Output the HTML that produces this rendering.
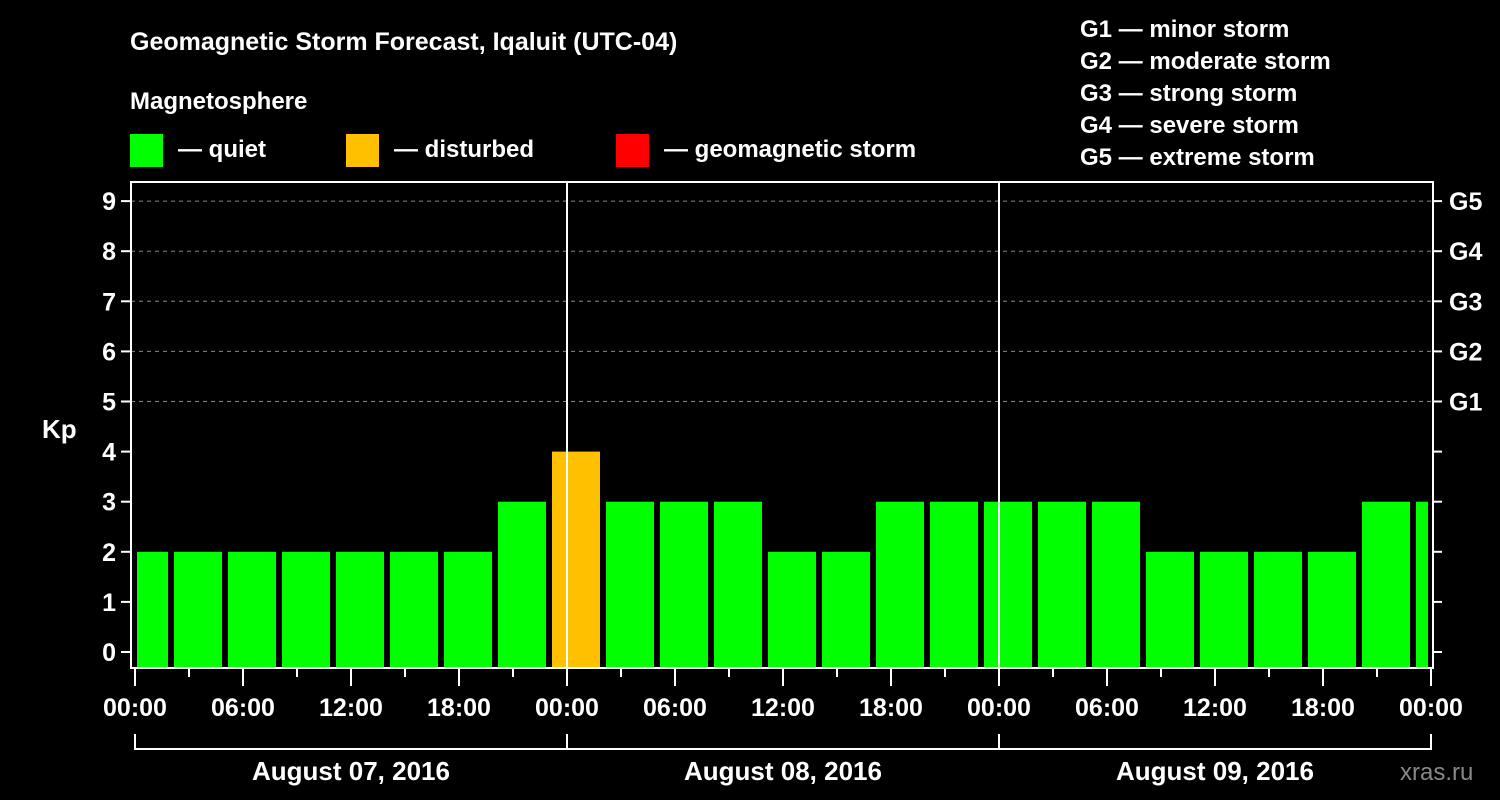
<!DOCTYPE html>
<html><head><meta charset="utf-8"><style>
html,body{margin:0;padding:0;background:#000;}
svg{display:block;font-family:"Liberation Sans",Arial,sans-serif;font-weight:bold;}
</style></head><body>
<svg width="1500" height="800" viewBox="0 0 1500 800">
<rect width="1500" height="800" fill="#000"/>
<text x="130" y="50" fill="#fff" font-size="25">Geomagnetic Storm Forecast, Iqaluit (UTC-04)</text>
<text x="130" y="109" fill="#fff" font-size="24">Magnetosphere</text>
<g><rect x="130" y="134" width="33" height="33" fill="#00ff00"/><text x="178" y="157" fill="#fff" font-size="24">— quiet</text></g>
<g><rect x="346" y="134" width="33" height="33" fill="#ffc000"/><text x="394" y="157" fill="#fff" font-size="24">— disturbed</text></g>
<g><rect x="616" y="134" width="33" height="33" fill="#ff0000"/><text x="664" y="157" fill="#fff" font-size="24">— geomagnetic storm</text></g>
<g fill="#fff" font-size="24">
<text x="1080" y="37">G1 — minor storm</text>
<text x="1080" y="69">G2 — moderate storm</text>
<text x="1080" y="101">G3 — strong storm</text>
<text x="1080" y="133">G4 — severe storm</text>
<text x="1080" y="165">G5 — extreme storm</text>
</g>
<text x="42" y="438" fill="#fff" font-size="26">Kp</text>
<defs><clipPath id="pc"><rect x="137" y="182" width="1291" height="486"/></clipPath></defs>
<g id="grid"></g>
<g id="bars" clip-path="url(#pc)"></g>
<g id="axes"></g>
<text x="1400" y="780" fill="#888" font-size="24" font-weight="normal">xras.ru</text>
</svg>
<script>
const kpValues=[2,2,2,2,2,2,2,3,4,3,3,3,2,2,3,3,3,3,3,2,2,2,2,3,3];
const kpTicks=[0,1,2,3,4,5,6,7,8,9];
const gLabels=["G1","G2","G3","G4","G5"];
const timeLabels=["00:00","06:00","12:00","18:00","00:00","06:00","12:00","18:00","00:00","06:00","12:00","18:00","00:00"];
const dayLabels=["August 07, 2016","August 08, 2016","August 09, 2016"];
const NS="http://www.w3.org/2000/svg";
const X0=135,PXH=18,Y0=652,PXK=50.1;
const xs=h=>X0+h*PXH, ys=k=>Y0-k*PXK;
function mk(tag,attrs,parent,txt){const e=document.createElementNS(NS,tag);for(const k in attrs)e.setAttribute(k,attrs[k]);if(txt!==undefined)e.textContent=txt;document.getElementById(parent).appendChild(e);return e;}
const color=v=>v>=5?"#ff0000":v>=4?"#ffc000":"#00ff00";
kpValues.forEach((v,i)=>{
 const c=i*3-1+1.5;
 const l=xs(c-1.5)+3,r=xs(c+1.5)-3;
 const b=mk("rect",{x:l,y:ys(v),width:r-l,height:667-ys(v),fill:color(v)},"bars");
 
 
});
kpTicks.forEach(k=>{
 const y=ys(k);
 if(k>=5){const g=mk("line",{x1:131,x2:1433,y1:y,y2:y,stroke:"#888","stroke-dasharray":"4,4","stroke-width":1},"grid");
 
 }
 mk("line",{x1:121,x2:131,y1:y,y2:y,stroke:"#fff","stroke-width":2},"axes");
 mk("line",{x1:1433,x2:1442,y1:y,y2:y,stroke:"#fff","stroke-width":2},"axes");
 const t=mk("text",{x:116,y:y+9,fill:"#fff","font-size":25,"text-anchor":"end"},"axes",String(k));
 
 
 if(k>=5){const g=mk("text",{x:1449,y:y+9,fill:"#fff","font-size":25},"axes",gLabels[k-5]);
 
 }
});
// frame
mk("rect",{x:131,y:182,width:1302,height:486,fill:"none",stroke:"#fff","stroke-width":2},"axes");
[1,2].forEach(d=>{const l=mk("line",{x1:xs(24*d),x2:xs(24*d),y1:182,y2:668,stroke:"#fff","stroke-width":2},"axes");
 
 });
for(let h=0;h<=72;h+=3){const maj=h%6===0;mk("line",{x1:xs(h),x2:xs(h),y1:668,y2:maj?686:677,stroke:"#fff","stroke-width":2},"axes");}
timeLabels.forEach((s,i)=>{const t=mk("text",{x:xs(i*6),y:716,fill:"#fff","font-size":25,"text-anchor":"middle"},"axes",s);
 
 });
mk("path",{d:`M${xs(0)},734V749H${xs(72)}V734`,fill:"none",stroke:"#fff","stroke-width":2},"axes");
[1,2].forEach(d=>mk("line",{x1:xs(24*d),x2:xs(24*d),y1:734,y2:749,stroke:"#fff","stroke-width":2},"axes"));
dayLabels.forEach((s,i)=>{const t=mk("text",{x:xs(24*i+12),y:780,fill:"#fff","font-size":26,"text-anchor":"middle"},"axes",s);
 
 });
</script>
</body></html>
